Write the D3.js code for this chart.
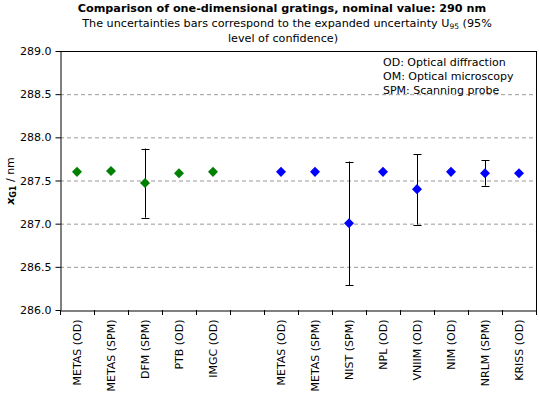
<!DOCTYPE html>
<html><head><meta charset="utf-8">
<script src="https://cdn.jsdelivr.net/npm/d3@7"></script>
<style>body{margin:0;background:#fff}svg{display:block;font-family:"DejaVu Sans",Verdana,sans-serif}</style>
</head><body><svg id="c" width="539" height="396"></svg>
<script>
const categories = ["METAS (OD)","METAS (SPM)","DFM (SPM)","PTB (OD)","IMGC (OD)","","METAS (OD) ","METAS (SPM) ","NIST (SPM)","NPL (OD)","VNIIM (OD)","NIM (OD)","NRLM (SPM)","KRISS (OD)"];
const labels = ["METAS (OD)","METAS (SPM)","DFM (SPM)","PTB (OD)","IMGC (OD)","","METAS (OD)","METAS (SPM)","NIST (SPM)","NPL (OD)","VNIIM (OD)","NIM (OD)","NRLM (SPM)","KRISS (OD)"];
const greenValues = [287.60, 287.61, 287.47, 287.585, 287.60];
const greenUpper = [null, null, 287.87, null, null];
const greenLower = [null, null, 287.07, null, null];
const blueValues = [287.60, 287.60, 287.005, 287.60, 287.40, 287.60, 287.585, 287.585];
const blueUpper = [null, null, 287.72, null, 287.805, null, 287.735, null];
const blueLower = [null, null, 286.285, null, 286.99, null, 287.44, null];
const yTicks = [286.0, 286.5, 287.0, 287.5, 288.0, 288.5, 289.0];
const legendLines = ["OD: Optical diffraction","OM: Optical microscopy","SPM: Scanning probe"];

const svg = d3.select("#c");
const L = 60, R = 536, T = 51, B = 310;
const FS = 11;
const x = d3.scaleBand().domain(categories).range([L, R]).padding(0);
const y = d3.scaleLinear().domain([286, 289]).range([B, T]);

// title
svg.append("text").attr("x", 282).attr("y", 12).attr("text-anchor","middle")
  .attr("font-weight","bold").attr("font-size", 11.2).text("Comparison of one-dimensional gratings, nominal value: 290 nm");
const st = svg.append("text").attr("x", 287).attr("y", 27).attr("text-anchor","middle").attr("font-size", 11.2);
st.append("tspan").text("The uncertainties bars correspond to the expanded uncertainty U");
st.append("tspan").attr("font-size", 7.5).attr("dy", 2).text("95");
st.append("tspan").attr("dy", -2).text(" (95%");
svg.append("text").attr("x", 283).attr("y", 42).attr("text-anchor","middle").attr("font-size", 11.2).text("level of confidence)");

// grid
svg.append("g").selectAll("line").data(yTicks.filter(d => d > 286 && d < 289)).join("line")
  .attr("x1", L).attr("x2", R).attr("y1", d => y(d)+0.5).attr("y2", d => y(d)+0.5)
  .attr("stroke", "#999").attr("stroke-dasharray", "4,3");

// border
svg.append("line").attr("x1", L).attr("x2", R+0.5).attr("y1", T+0.5).attr("y2", T+0.5).attr("stroke","#000");
svg.append("line").attr("x1", R+0.5).attr("x2", R+0.5).attr("y1", T).attr("y2", B).attr("stroke","#000");

// y axis
const ya = svg.append("g").attr("transform", `translate(${L+0.5},0)`)
  .call(d3.axisLeft(y).tickValues(yTicks).tickFormat(d3.format(".1f")).tickSize(5).tickSizeOuter(0));
ya.selectAll("text").attr("font-size", FS).attr("fill","#000").attr("font-family","DejaVu Sans").attr("dx", -1);
ya.selectAll("path,line").attr("stroke","#000");

// x axis
const xa = svg.append("g").attr("transform", `translate(0,${B+0.5})`)
  .call(d3.axisBottom(x).tickSize(0).tickFormat((d,i) => labels[i]).tickSizeOuter(0));
xa.select("path").attr("stroke","#000");
xa.selectAll(".tick text").attr("font-size", FS).attr("fill","#000").attr("font-family","DejaVu Sans")
  .attr("text-anchor","end").attr("transform","rotate(-90)").attr("x", -9).attr("y", 0).attr("dy","0.35em");
// tick marks at band boundaries
const bounds = categories.map(c => x(c)).concat([R]);
svg.append("g").selectAll("line").data(bounds).join("line")
  .attr("x1", d => Math.round(d)+0.5).attr("x2", d => Math.round(d)+0.5).attr("y1", B).attr("y2", B+5).attr("stroke","#000");

// y label
const yl = svg.append("text").attr("transform", "translate(14,181) rotate(-90)").attr("text-anchor","middle").attr("font-size", FS);
yl.append("tspan").attr("font-weight","bold").attr("font-style","italic").text("x");
yl.append("tspan").attr("font-weight","bold").attr("font-size", 8).attr("dy", 2).text("G1");
yl.append("tspan").attr("dy", -2).text(" / nm");

// series
function series(vals, up, lo, offset, color) {
  const g = svg.append("g");
  vals.forEach((v, i) => {
    const cx = x(categories[i+offset]) + x.bandwidth()/2;
    if (up[i] != null) {
      const xx = Math.round(cx)+0.5;
      g.append("line").attr("x1", xx).attr("x2", xx).attr("y1", y(up[i])).attr("y2", y(lo[i])).attr("stroke","#000");
      [up[i], lo[i]].forEach(b => g.append("line").attr("x1", xx-4).attr("x2", xx+4).attr("y1", Math.round(y(b))+0.5).attr("y2", Math.round(y(b))+0.5).attr("stroke","#000"));
    }
    g.append("path").attr("d", d3.symbol(d3.symbolDiamond2, 64)()).attr("transform", `translate(${cx},${y(v)})`).attr("fill", color);
  });
}
series(greenValues, greenUpper, greenLower, 0, "#008000");
series(blueValues, blueUpper, blueLower, 6, "#0000ff");

// legend
svg.append("g").selectAll("text").data(legendLines).join("text")
  .attr("x", 383).attr("y", (d,i) => 66 + i*14).attr("font-size", FS).text(d => d);
</script></body></html>
